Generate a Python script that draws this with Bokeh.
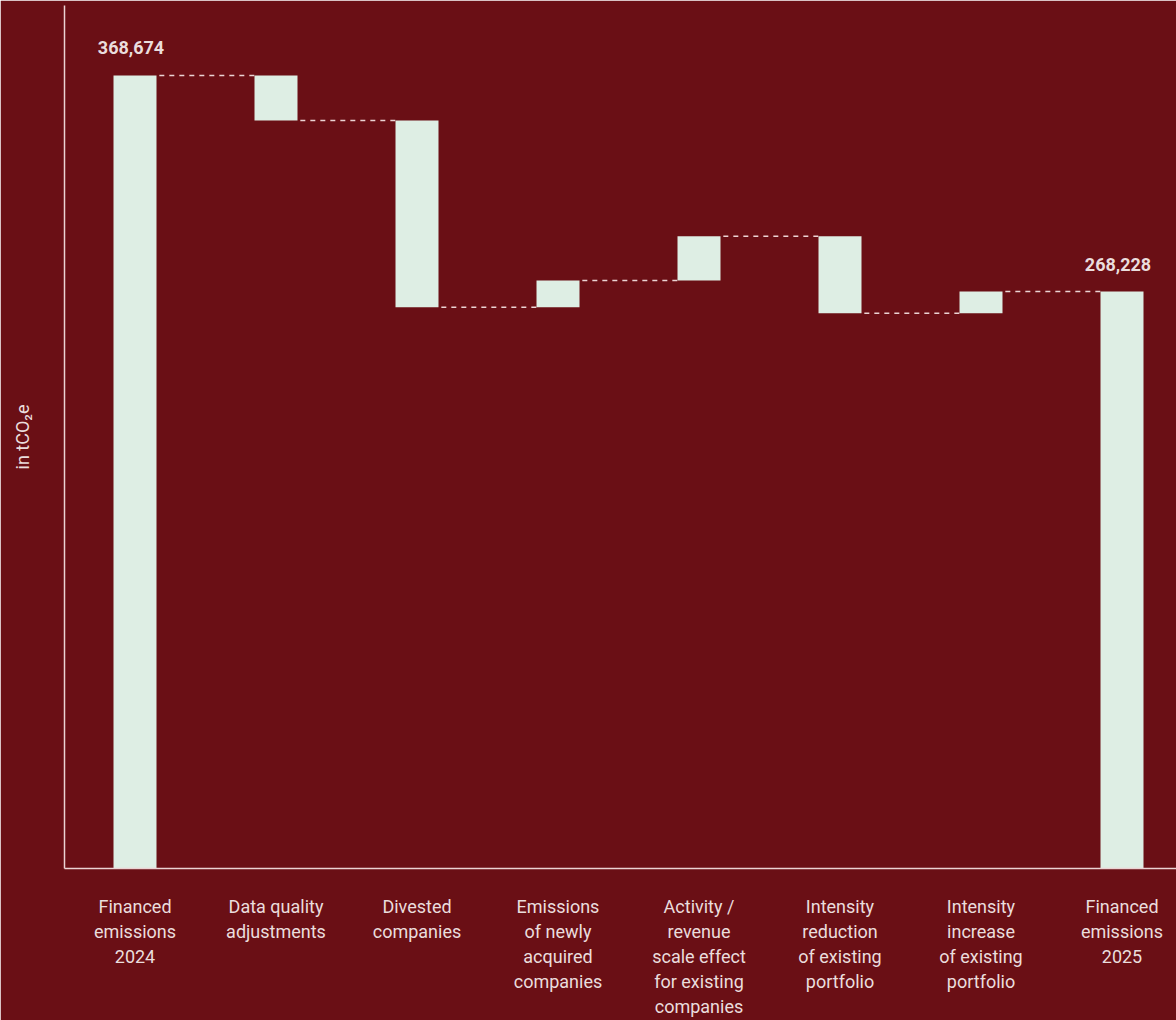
import numpy as np
from bokeh.plotting import figure
from bokeh.models import Range1d, FixedTicker, ColumnDataSource
from bokeh.core.properties import value
from bokeh.embed import file_html
from bokeh.resources import INLINE

categories = [
    "Financed\nemissions\n2024",
    "Data quality\nadjustments",
    "Divested\ncompanies",
    "Emissions\nof newly\nacquired\ncompanies",
    "Activity /\nrevenue\nscale effect\nfor existing\ncompanies",
    "Intensity\nreduction\nof existing\nportfolio",
    "Intensity\nincrease\nof existing\nportfolio",
    "Financed\nemissions\n2025",
]
start_value = 368674
changes = [-20900, -86900, 12500, 20500, -35800, 10154]
end_value = 268228
value_labels = ["368,674", "268,228"]

BG = "#6A0F15"
BAR = "#DEEEE4"
LINE = "#EBD3D3"
TEXT = "#EADDDD"

levels = [start_value]
for c in changes:
    levels.append(levels[-1] + c)
bottoms = [0]
tops = [start_value]
for i, c in enumerate(changes):
    a, b = levels[i], levels[i + 1]
    bottoms.append(min(a, b))
    tops.append(max(a, b))
bottoms.append(0)
tops.append(end_value)
xs = list(range(len(categories)))
bw = 0.305

p = figure(width=1176, height=1020, output_backend="svg", toolbar_location=None,
           x_range=Range1d(-0.5, -0.5 + 1112 / 141), y_range=Range1d(0, 401200),
           min_border_left=64, min_border_right=0, min_border_top=5, min_border_bottom=100,
           background_fill_color=BG, border_fill_color=BG)
p.outline_line_color = BG
p.outline_line_width = 2
p.grid.visible = False
p.title.visible = False

src = ColumnDataSource(dict(x=xs, top=tops, bottom=bottoms))
p.vbar(x="x", top="top", bottom="bottom", width=bw, source=src, fill_color=BAR, line_color=None)

# connectors
x0 = [i + bw / 2 + 0.02 for i in range(len(categories) - 1)]
x1 = [i + 1 - bw / 2 for i in range(len(categories) - 1)]
yc = [levels[i] for i in range(len(categories) - 1)]
p.segment(x0=x0, y0=yc, x1=x1, y1=yc, line_color=LINE, line_width=1.5, line_dash="5 5")

# value labels
p.text(x=[0, len(categories) - 1], y=[start_value, end_value], text=value_labels,
       text_align="center", text_baseline="bottom", y_offset=-21, x_offset=-4,
       text_font=value("Roboto"), text_font_style="bold", text_font_size="18px", text_color=TEXT)

xa = p.xaxis[0]
xa.ticker = FixedTicker(ticks=xs)
xa.major_label_overrides = {i: c for i, c in enumerate(categories)}
xa.major_tick_line_color = None
xa.minor_tick_line_color = None
xa.axis_line_color = LINE
xa.axis_line_width = 1.5
xa.major_label_text_font = "Roboto"
xa.major_label_text_font_size = "18px"
xa.major_label_text_color = TEXT
xa.major_label_text_line_height = 1.2
xa.major_label_standoff = 21

ya = p.yaxis[0]
ya.major_tick_line_color = None
ya.minor_tick_line_color = None
ya.major_label_text_font_size = "0px"
ya.major_label_text_color = None
ya.axis_line_color = LINE
ya.axis_line_width = 1.5
ya.axis_label = "in tCO₂e"
ya.axis_label_text_font = "Roboto"
ya.axis_label_text_font_style = "normal"
ya.axis_label_text_font_size = "18px"
ya.axis_label_text_color = TEXT
ya.axis_label_standoff = 26

open("out.html", "w").write(file_html(p, INLINE))
